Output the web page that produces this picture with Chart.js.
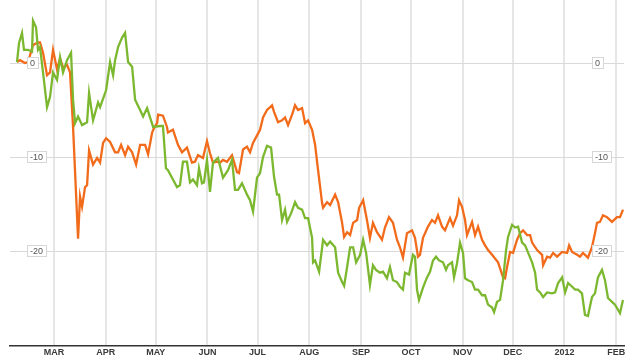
<!DOCTYPE html>
<html>
<head>
<meta charset="utf-8">
<script src="https://cdn.jsdelivr.net/npm/chart.js@4.4.1/dist/chart.umd.min.js"></script>
<style>
html,body{margin:0;padding:0;background:#fff;}
#wrap{width:640px;height:362px;position:relative;}
</style>
</head>
<body>
<div id="wrap"><canvas id="c" width="640" height="362"></canvas></div>
<script>
// x values: days since 1 Mar 2011
const monthDays = [0, 31, 61, 92, 122, 153, 184, 214, 245, 275, 306, 337];
const monthLabels = ['MAR','APR','MAY','JUN','JUL','AUG','SEP','OCT','NOV','DEC','2012','FEB'];
const yTicks = [0, -10, -20];

const orangeDays = [-22.2,-20.4,-17.4,-15.6,-12.6,-9.6,-8.4,-6.6,-4.2,-2.4,-0.6,1.8,3.6,5.4,7.8,9.6,11.4,14.4,15.6,16.8,18.6,19.8,21.0,23.4,25.8,27.6,29.4,31.2,33.6,36.6,38.4,40.2,42.6,44.4,46.8,49.2,51.6,54.6,56.4,58.8,60.0,61.8,62.4,65.3,67.7,68.3,71.3,74.3,76.7,79.7,82.7,84.5,86.3,89.3,91.7,93.5,95.3,97.7,99.5,101.3,103.7,106.7,109.7,110.9,113.3,115.7,117.5,119.3,121.7,123.5,125.3,127.7,130.7,131.9,134.3,136.7,138.5,140.3,142.7,144.5,146.3,148.7,150.5,152.3,154.7,156.5,158.3,160.7,161.3,163.7,165.5,168.5,170.3,172.7,173.9,175.7,177.5,179.3,181.7,182.9,185.3,187.6,189.4,191.2,193.6,196.6,198.4,200.8,203.2,205.6,207.4,209.2,211.6,214.6,216.4,218.2,219.4,221.2,224.2,226.6,228.4,230.2,232.6,234.4,237.4,239.2,241.6,242.8,244.6,246.4,247.6,250.6,252.4,254.2,256.6,258.4,260.2,262.6,266.2,269.2,270.4,271.6,273.4,275.2,277.6,279.4,281.2,283.6,285.4,286.6,289.6,292.6,293.2,295.6,297.4,299.2,301.6,304.6,307.6,308.8,310.6,313.6,315.3,317.1,320.1,322.5,324.3,325.5,327.3,329.1,331.5,334.5,337.5,339.3,341.1];
const orangeValues = [0.2,0.4,0.1,0.2,2.0,2.3,2.3,1.2,-1.2,-0.9,1.5,-0.6,0.6,-0.4,-0.1,-0.9,-6.7,-18.6,-14.1,-15.2,-13.1,-12.9,-9.2,-10.7,-10.0,-10.5,-8.4,-7.9,-8.3,-9.4,-9.4,-8.6,-9.7,-8.8,-9.4,-10.7,-8.6,-8.6,-9.6,-7.3,-6.8,-6.3,-5.4,-5.5,-6.7,-7.3,-7.0,-8.6,-9.4,-8.9,-10.5,-10.4,-9.7,-10.0,-8.2,-9.5,-10.5,-10.4,-10.5,-10.2,-10.4,-9.7,-11.5,-11.6,-9.1,-8.8,-9.4,-8.4,-7.6,-7.0,-5.7,-4.9,-4.4,-5.1,-6.2,-6.0,-5.7,-6.5,-5.4,-4.4,-4.9,-4.7,-6.3,-6.0,-7.0,-8.6,-11.3,-14.8,-15.3,-14.7,-15.0,-13.9,-14.7,-16.9,-18.4,-17.9,-18.2,-16.9,-16.6,-15.3,-14.5,-16.6,-18.5,-16.9,-17.9,-18.7,-17.4,-16.3,-16.9,-18.7,-19.5,-20.6,-18.0,-17.7,-18.5,-20.5,-20.3,-18.5,-17.3,-16.6,-16.9,-16.1,-17.3,-17.7,-16.4,-17.2,-16.1,-14.5,-15.2,-16.6,-18.2,-16.8,-18.2,-17.3,-18.7,-19.3,-19.8,-20.3,-21.1,-22.7,-22.8,-21.6,-20.0,-20.1,-18.7,-18.0,-17.7,-18.2,-18.2,-19.0,-19.8,-20.3,-21.4,-20.5,-20.6,-20.1,-20.5,-20.0,-20.1,-19.3,-20.0,-20.3,-20.5,-20.1,-20.6,-19.5,-18.0,-16.9,-16.8,-16.1,-16.3,-16.8,-16.3,-16.3,-15.5];

const greenDays = [-22.2,-21.0,-19.2,-18.0,-15.6,-13.2,-12.6,-10.8,-9.6,-8.4,-6.6,-4.2,-2.4,-0.6,1.8,3.6,5.4,7.8,10.2,11.4,12.6,14.4,16.8,19.8,21.0,23.4,26.4,27.6,31.2,33.6,35.4,36.6,38.4,40.8,42.6,44.4,46.8,48.6,51.6,53.4,55.8,57.6,59.4,63.5,65.3,67.1,68.3,71.3,73.7,75.5,77.3,79.7,81.5,83.3,85.7,86.9,88.7,89.9,91.7,93.5,95.3,98.3,101.3,104.3,106.7,108.5,110.3,112.7,115.7,117.5,119.3,121.7,123.5,125.3,127.7,130.1,131.9,133.7,134.9,136.7,138.5,139.7,142.1,144.5,146.3,148.7,150.5,152.3,154.7,155.3,156.5,158.9,161.3,163.7,165.5,168.5,170.3,172.7,173.9,175.7,177.5,179.3,181.1,183.5,185.3,187.1,189.4,191.2,193.0,195.4,197.2,199.6,201.4,203.2,205.6,207.4,209.2,210.4,212.8,215.2,216.4,217.6,218.8,221.2,223.6,225.4,227.2,229.0,230.8,233.2,235.0,236.2,238.6,239.8,241.6,243.4,245.2,246.4,248.2,250.6,252.4,254.2,256.6,258.4,260.2,262.6,263.8,265.6,267.4,269.2,271.0,272.2,274.6,276.4,278.2,280.6,282.4,286.6,288.4,289.6,291.4,293.2,295.6,298.6,300.4,302.2,304.6,306.4,308.2,310.6,312.4,314.1,316.5,318.3,320.1,322.5,324.3,326.1,328.5,330.3,332.1,334.5,336.3,339.3,341.1];
const greenValues = [0.2,2.2,3.3,1.5,1.5,1.3,4.6,3.9,1.5,1.8,-0.9,-4.6,-3.5,-0.9,-1.7,0.7,-0.9,0.4,1.2,-3.8,-6.3,-5.6,-6.5,-6.2,-3.1,-6.0,-4.1,-4.6,-2.8,0.2,-1.2,0.4,1.8,2.8,3.3,0.2,-0.3,-3.8,-4.9,-5.6,-4.7,-5.7,-6.7,-6.6,-6.6,-11.1,-11.3,-12.3,-13.1,-12.9,-10.4,-10.4,-12.6,-12.3,-12.9,-11.1,-12.7,-12.6,-10.2,-13.6,-10.5,-10.0,-12.1,-11.3,-10.2,-13.4,-13.4,-12.7,-13.9,-14.5,-15.7,-12.1,-11.6,-9.9,-8.7,-8.9,-12.0,-13.9,-13.9,-16.6,-15.5,-16.8,-15.9,-14.7,-15.3,-15.5,-16.4,-16.4,-18.5,-21.1,-20.9,-22.1,-18.7,-19.3,-18.9,-19.5,-22.2,-23.2,-23.6,-21.6,-19.5,-19.5,-21.1,-20.3,-18.7,-20.1,-23.5,-21.4,-21.9,-22.2,-22.1,-22.8,-21.6,-23.0,-23.2,-23.7,-24.0,-22.2,-22.4,-20.3,-20.5,-24.0,-25.1,-23.8,-22.7,-22.1,-20.9,-20.5,-20.9,-21.1,-21.9,-21.4,-21.1,-22.7,-21.2,-19.0,-20.1,-22.8,-23.0,-23.2,-24.0,-24.0,-24.6,-24.6,-25.6,-25.9,-26.4,-25.3,-25.1,-23.0,-19.8,-18.4,-17.1,-17.4,-17.3,-19.0,-19.3,-21.1,-22.2,-24.0,-24.3,-24.8,-24.3,-24.4,-24.3,-23.3,-22.7,-24.3,-23.3,-23.7,-24.0,-24.0,-24.4,-26.7,-26.8,-24.8,-24.4,-22.7,-21.9,-23.0,-24.9,-25.3,-25.6,-26.5,-25.1];

const FONT = '"Liberation Sans", Arial, Helvetica, sans-serif';

const toPoints = (xs, ys) => xs.map((x, i) => ({x: x, y: ys[i]}));

const labelPlugin = {
  id: 'labels',
  afterDatasetsDraw(chart) {
    const ctx = chart.ctx;
    const xs = chart.scales.x, ys = chart.scales.y;
    ctx.save();
    // month labels
    ctx.font = 'bold 9px ' + FONT;
    ctx.fillStyle = '#3a3a3a';
    ctx.textAlign = 'center';
    ctx.textBaseline = 'middle';
    monthLabels.forEach((lab, i) => {
      ctx.fillText(lab, xs.getPixelForValue(monthDays[i]), 353);
    });
    // y labels in boxes, left and right
    ctx.font = '9px ' + FONT;
    ctx.textAlign = 'left';
    yTicks.forEach(v => {
      const y = Math.round(ys.getPixelForValue(v));
      const txt = String(v);
      const w = Math.ceil(ctx.measureText(txt).width) + 5;
      [27, 592].forEach(x0 => {
        ctx.fillStyle = '#ffffff';
        ctx.fillRect(x0 + 0.5, y - 6.5, w, 11);
        ctx.strokeStyle = '#d6d6d6';
        ctx.lineWidth = 1;
        ctx.strokeRect(x0 + 0.5, y - 6.5, w, 11);
        ctx.fillStyle = '#555555';
        ctx.fillText(txt, x0 + 3, y - 0.5);
      });
    });
    ctx.restore();
  }
};

new Chart(document.getElementById('c'), {
  type: 'line',
  data: {
    datasets: [
      {
        label: 'green',
        data: toPoints(greenDays, greenValues),
        borderColor: '#7cb82f',
        borderWidth: 2.3,
        pointRadius: 0,
        tension: 0,
        fill: false
      },
      {
        label: 'orange',
        data: toPoints(orangeDays, orangeValues),
        borderColor: '#f26b1a',
        borderWidth: 2.3,
        pointRadius: 0,
        tension: 0,
        fill: false
      }
    ]
  },
  options: {
    responsive: false,
    animation: false,
    devicePixelRatio: 1,
    layout: {padding: {left: 10, right: 16, top: 0, bottom: 16}},
    plugins: {legend: {display: false}, tooltip: {enabled: false}},
    scales: {
      x: {
        type: 'linear',
        min: -26.4,
        max: 341.7,
        afterBuildTicks: s => { s.ticks = monthDays.map(v => ({value: v})); },
        ticks: {display: false},
        grid: {color: '#e6e6e6', lineWidth: 2, drawTicks: false},
        border: {display: true, color: '#333333', width: 1.5}
      },
      y: {
        type: 'linear',
        min: -30,
        max: 6.8,
        afterBuildTicks: s => { s.ticks = yTicks.map(v => ({value: v})); },
        ticks: {display: false},
        grid: {color: '#d9d9d9', lineWidth: 1, drawTicks: false},
        border: {display: false}
      }
    }
  },
  plugins: [labelPlugin]
});
</script>
</body>
</html>
